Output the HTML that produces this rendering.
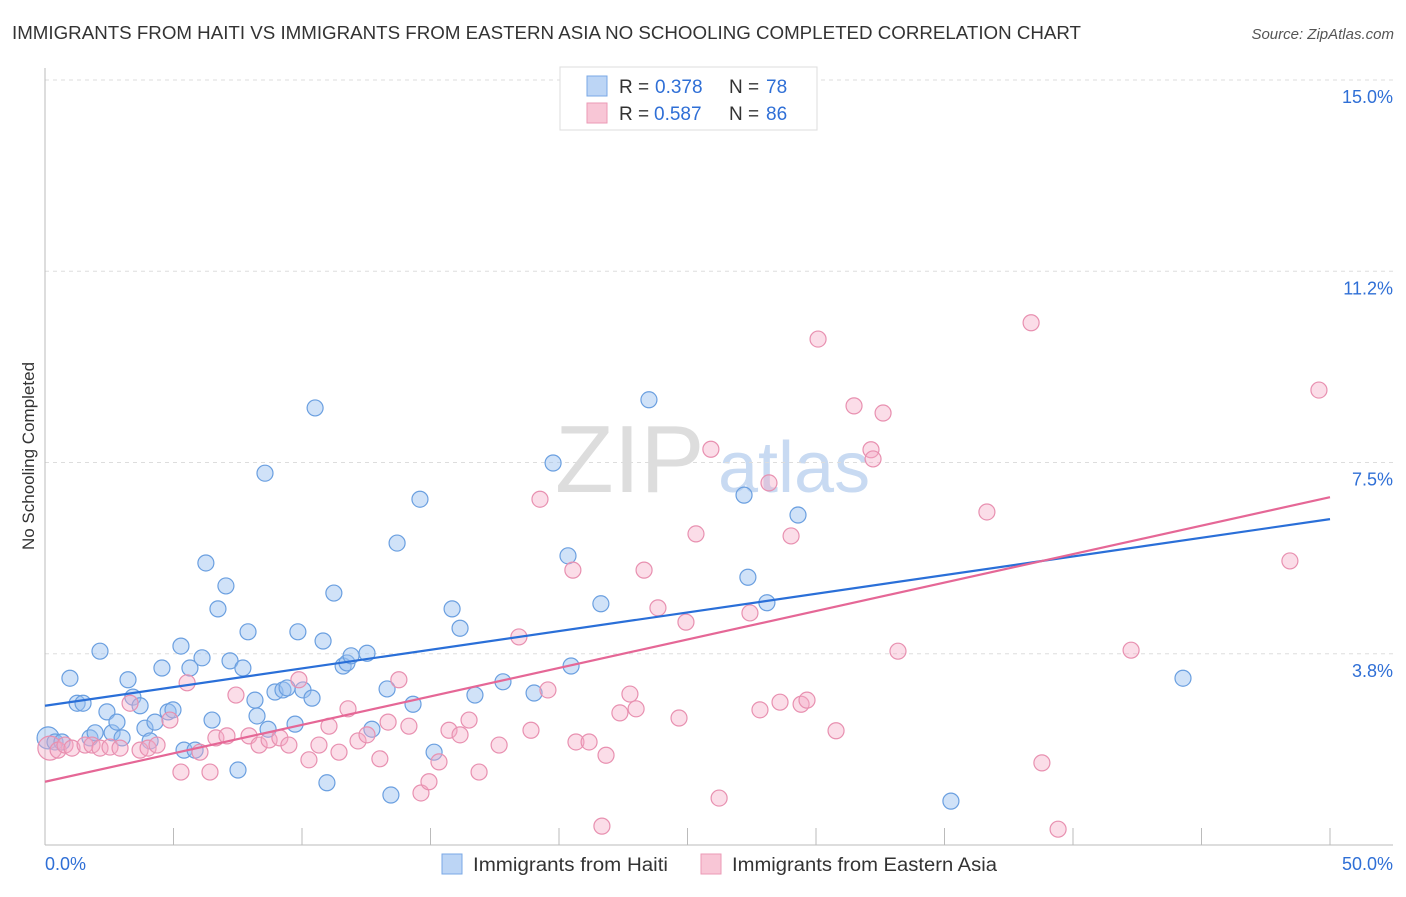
<!DOCTYPE html>
<html><head><meta charset="utf-8"><style>
body{margin:0;background:#fff;font-family:"Liberation Sans",sans-serif;}
svg text{font-family:"Liberation Sans",sans-serif;}
</style></head><body>
<svg id="chart" width="1406" height="892">
<text x="12" y="39" font-size="18" fill="#333" textLength="1069" lengthAdjust="spacingAndGlyphs">IMMIGRANTS FROM HAITI VS IMMIGRANTS FROM EASTERN ASIA NO SCHOOLING COMPLETED CORRELATION CHART</text>
<text x="1394" y="39" font-size="15" fill="#555" font-style="italic" text-anchor="end">Source: ZipAtlas.com</text>
<text x="0" y="0" transform="translate(34,456) rotate(-90)" font-size="17" fill="#333" text-anchor="middle">No Schooling Completed</text>
<text x="555" y="492" font-size="96" fill="#ddd" font-family="Liberation Serif">ZIP</text>
<text x="718" y="492" font-size="72" fill="#c8daf2">atlas</text>
<g id="grid"></g><g id="axes"></g><g id="pts"></g><g id="trend"></g>
<g>
<rect x="560" y="67" width="257" height="63" fill="#fff" stroke="#ddd"/>
<rect x="587" y="76" width="20" height="20" fill="#bcd5f5" stroke="#7aa8e6"/>
<text x="619" y="93" font-size="19" fill="#333">R =</text>
<text x="655" y="93" font-size="19" fill="#2f6fd6">0.378</text>
<text x="729" y="93" font-size="19" fill="#333">N =</text>
<text x="766" y="93" font-size="19" fill="#2f6fd6">78</text>
<rect x="587" y="103" width="20" height="20" fill="#f8c6d6" stroke="#eb9ab6"/>
<text x="619" y="120" font-size="19" fill="#333">R =</text>
<text x="654" y="120" font-size="19" fill="#2f6fd6">0.587</text>
<text x="729" y="120" font-size="19" fill="#333">N =</text>
<text x="766" y="120" font-size="19" fill="#2f6fd6">86</text>
</g>
<g>
<rect x="442" y="854" width="20" height="20" fill="#bcd5f5" stroke="#7aa8e6"/>
<text x="473" y="871" font-size="19" fill="#333" textLength="195" lengthAdjust="spacingAndGlyphs">Immigrants from Haiti</text>
<rect x="701" y="854" width="20" height="20" fill="#f8c6d6" stroke="#eb9ab6"/>
<text x="732" y="871" font-size="19" fill="#333" textLength="265" lengthAdjust="spacingAndGlyphs">Immigrants from Eastern Asia</text>
</g>
</svg>
<script>
const yTicks=[3.75,7.5,11.25,15];
const yTickLabels=["3.8%","7.5%","11.2%","15.0%"];
const xTicks=[0,5,10,15,20,25,30,35,40,45,50];
const haitiX=[0.12,0.39,0.66,0.97,1.25,1.48,1.75,1.95,2.14,2.41,2.61,2.80,3.00,3.23,3.42,3.70,3.89,4.09,4.28,4.55,4.79,4.98,5.29,5.41,5.64,5.84,6.11,6.26,6.50,6.73,7.04,7.20,7.51,7.70,7.90,8.17,8.25,8.56,8.68,8.95,9.26,9.42,9.73,9.84,10.04,10.39,10.51,10.82,10.97,11.24,11.60,11.75,11.91,12.53,12.72,13.31,13.46,13.70,14.32,14.59,15.14,15.84,16.15,16.73,17.82,19.03,19.77,20.35,20.47,21.63,23.50,27.20,27.35,28.09,29.30,35.25,44.28];
const haitiY=[2.10,2.02,2.02,3.27,2.78,2.78,2.10,2.20,3.80,2.61,2.20,2.41,2.10,3.24,2.90,2.73,2.29,2.04,2.41,3.47,2.61,2.65,3.90,1.86,3.47,1.86,3.67,5.53,2.45,4.63,5.08,3.61,1.47,3.47,4.18,2.84,2.53,7.29,2.27,3.00,3.04,3.08,2.37,4.18,3.04,2.88,8.57,4.00,1.22,4.94,3.51,3.57,3.71,3.76,2.27,3.06,0.98,5.92,2.76,6.78,1.82,4.63,4.25,2.94,3.20,2.98,7.49,5.67,3.51,4.73,8.73,6.86,5.25,4.75,6.47,0.86,3.27];
const asiaX=[0.19,0.51,0.78,1.05,1.56,1.83,2.14,2.53,2.92,3.31,3.70,4.01,4.36,4.86,5.29,5.53,6.03,6.42,6.65,7.08,7.43,7.94,8.33,8.72,9.14,9.49,9.88,10.27,10.66,11.05,11.44,11.79,12.18,12.53,13.03,13.35,13.77,14.16,14.63,14.94,15.33,15.72,16.15,16.50,16.89,17.67,18.44,18.91,19.26,19.57,20.54,20.66,21.17,21.67,21.83,22.37,22.76,23.00,23.31,23.85,24.67,24.94,25.33,25.91,26.23,27.43,27.82,28.17,28.60,29.03,29.42,29.65,30.08,30.78,31.48,32.14,32.22,32.61,33.19,36.65,38.37,38.79,39.42,42.26,48.44,49.57];
const asiaY=[1.90,1.86,1.96,1.90,1.96,1.96,1.90,1.92,1.90,2.78,1.86,1.90,1.96,2.45,1.43,3.18,1.82,1.43,2.10,2.14,2.94,2.14,1.96,2.06,2.10,1.96,3.24,1.67,1.96,2.33,1.82,2.67,2.04,2.16,1.69,2.41,3.24,2.33,1.02,1.24,1.63,2.25,2.16,2.45,1.43,1.96,4.08,2.25,6.78,3.04,5.39,2.02,2.02,0.37,1.76,2.59,2.96,2.67,5.39,4.65,2.49,4.37,6.10,7.76,0.92,4.55,2.65,7.10,2.80,6.06,2.76,2.84,9.92,2.24,8.61,7.75,7.57,8.47,3.80,6.53,10.24,1.61,0.31,3.82,5.57,8.92];
const haitiTrend=[2.73,6.39];
const asiaTrend=[1.24,6.82];
const X=v=>45+v*(1330-45)/50;
const Y=v=>845-v*51;
const NS="http://www.w3.org/2000/svg";
function mk(tag,attrs,parent){const e=document.createElementNS(NS,tag);for(const k in attrs)e.setAttribute(k,attrs[k]);document.getElementById(parent).appendChild(e);return e;}
yTicks.forEach((t,i)=>{
 const l=mk('line',{x1:45,x2:1393,y1:Y(t),y2:Y(t),stroke:'#ddd','stroke-dasharray':'4,4'},'grid');
 
 
 const tx=mk('text',{x:1393,y:Y(t)+23,'font-size':18,fill:'#2f6fd6','text-anchor':'end'},'grid');
 tx.textContent=yTickLabels[i];
 
 
});
const topLine=mk('line',{x1:45,x2:1393,y1:80,y2:80,stroke:'#ddd','stroke-dasharray':'4,4'},'grid');


const ya=mk('line',{x1:45,x2:45,y1:68,y2:845,stroke:'#bbb'},'axes');


const xa=mk('line',{x1:45,x2:1393,y1:845,y2:845,stroke:'#bbb'},'axes');


xTicks.forEach(t=>{
 const l=mk('line',{x1:X(t),x2:X(t),y1:828,y2:845,stroke:'#bbb'},'axes');
 
 
});
const xl0=mk('text',{x:45,y:870,'font-size':18,fill:'#2f6fd6'},'axes');xl0.textContent='0.0%';


const xl1=mk('text',{x:1393,y:870,'font-size':18,fill:'#2f6fd6','text-anchor':'end'},'axes');xl1.textContent='50.0%';


haitiX.forEach((x,i)=>{
 const c=mk('circle',{cx:X(x),cy:Y(haitiY[i]),r:i===0?11:8,fill:'rgba(150,190,240,0.45)',stroke:'#6a9fe0','stroke-width':1.2},'pts');
 
 
});
asiaX.forEach((x,i)=>{
 const c=mk('circle',{cx:X(x),cy:Y(asiaY[i]),r:i===0?12:8,fill:'rgba(245,170,198,0.4)',stroke:'#e890b0','stroke-width':1.2},'pts');
 
 
});
const tb=mk('line',{x1:X(0),y1:Y(haitiTrend[0]),x2:X(50),y2:Y(haitiTrend[1]),stroke:'#2a6fd8','stroke-width':2.2},'trend');


const tp=mk('line',{x1:X(0),y1:Y(asiaTrend[0]),x2:X(50),y2:Y(asiaTrend[1]),stroke:'#e56796','stroke-width':2.2},'trend');


</script>
</body></html>
